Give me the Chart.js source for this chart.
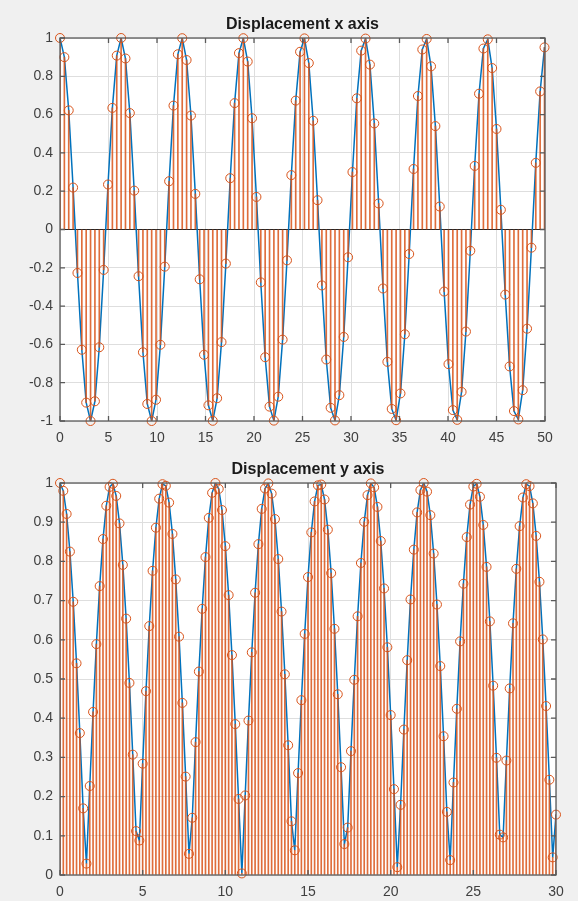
<!DOCTYPE html>
<html><head><meta charset="utf-8">
<script src="https://cdn.jsdelivr.net/npm/chart.js@4.4.1/dist/chart.umd.min.js"></script>
<style>
html,body{margin:0;padding:0;background:#f0f0f0;}
body{width:578px;height:901px;position:relative;overflow:hidden;}
.box{position:absolute;left:0;width:578px;}
canvas{display:block;}
</style></head><body>
<div class="box" style="top:0;height:450px"><canvas id="c1" width="578" height="450"></canvas></div>
<div class="box" style="top:450px;height:451px"><canvas id="c2" width="578" height="451"></canvas></div>
<script>
const titleTop = 'Displacement x axis';
const titleBottom = 'Displacement y axis';

const timeTop = [
0,0.45,0.9,1.35,1.8,2.25,2.7,3.15,3.6,4.05,
4.5,4.95,5.4,5.85,6.3,6.75,7.2,7.65,8.1,8.55,
9,9.45,9.9,10.35,10.8,11.25,11.7,12.15,12.6,13.05,
13.5,13.95,14.4,14.85,15.3,15.75,16.2,16.65,17.1,17.55,
18,18.45,18.9,19.35,19.8,20.25,20.7,21.15,21.6,22.05,
22.5,22.95,23.4,23.85,24.3,24.75,25.2,25.65,26.1,26.55,
27,27.45,27.9,28.35,28.8,29.25,29.7,30.15,30.6,31.05,
31.5,31.95,32.4,32.85,33.3,33.75,34.2,34.65,35.1,35.55,
36,36.45,36.9,37.35,37.8,38.25,38.7,39.15,39.6,40.05,
40.5,40.95,41.4,41.85,42.3,42.75,43.2,43.65,44.1,44.55,
45,45.45,45.9,46.35,46.8,47.25,47.7,48.15,48.6,49.05,
49.5,49.95];
const dispX = [
1,0.900,0.622,0.219,-0.227,-0.628,-0.904,-1.000,-0.897,-0.615,
-0.211,0.235,0.635,0.908,1.000,0.893,0.608,0.203,-0.244,-0.641,
-0.911,-1.000,-0.889,-0.602,-0.194,0.252,0.647,0.915,0.999,0.885,
0.595,0.186,-0.260,-0.654,-0.918,-0.999,-0.881,-0.588,-0.178,0.268,
0.660,0.921,0.999,0.877,0.581,0.170,-0.276,-0.667,-0.925,-0.998,
-0.873,-0.575,-0.161,0.284,0.673,0.928,0.998,0.869,0.568,0.153,
-0.292,-0.679,-0.931,-0.997,-0.865,-0.561,-0.145,0.300,0.685,0.934,
0.997,0.861,0.554,0.136,-0.308,-0.691,-0.937,-0.996,-0.856,-0.547,
-0.128,0.316,0.697,0.940,0.995,0.852,0.540,0.120,-0.324,-0.703,
-0.943,-0.994,-0.848,-0.533,-0.111,0.332,0.709,0.945,0.993,0.843,
0.525,0.103,-0.340,-0.715,-0.948,-0.992,-0.839,-0.518,-0.095,0.348,
0.721,0.951];

const timeBottom = [
0,0.2,0.4,0.6,0.8,1,1.2,1.4,1.6,1.8,
2,2.2,2.4,2.6,2.8,3,3.2,3.4,3.6,3.8,
4,4.2,4.4,4.6,4.8,5,5.2,5.4,5.6,5.8,
6,6.2,6.4,6.6,6.8,7,7.2,7.4,7.6,7.8,
8,8.2,8.4,8.6,8.8,9,9.2,9.4,9.6,9.8,
10,10.2,10.4,10.6,10.8,11,11.2,11.4,11.6,11.8,
12,12.2,12.4,12.6,12.8,13,13.2,13.4,13.6,13.8,
14,14.2,14.4,14.6,14.8,15,15.2,15.4,15.6,15.8,
16,16.2,16.4,16.6,16.8,17,17.2,17.4,17.6,17.8,
18,18.2,18.4,18.6,18.8,19,19.2,19.4,19.6,19.8,
20,20.2,20.4,20.6,20.8,21,21.2,21.4,21.6,21.8,
22,22.2,22.4,22.6,22.8,23,23.2,23.4,23.6,23.8,
24,24.2,24.4,24.6,24.8,25,25.2,25.4,25.6,25.8,
26,26.2,26.4,26.6,26.8,27,27.2,27.4,27.6,27.8,
28,28.2,28.4,28.6,28.8,29,29.2,29.4,29.6,29.8,
30];
const dispY = [
1.000,0.980,0.921,0.825,0.697,0.540,0.362,0.170,0.029,0.227,0.416,0.589,0.737,0.857,0.942,0.990,
0.998,0.967,0.897,0.791,0.654,0.490,0.307,0.112,0.088,0.284,0.469,0.635,0.776,0.886,0.960,0.997,
0.993,0.950,0.870,0.754,0.608,0.439,0.251,0.054,0.146,0.339,0.519,0.679,0.811,0.911,0.975,1.000,
0.985,0.931,0.839,0.714,0.561,0.385,0.194,0.004,0.203,0.394,0.568,0.720,0.844,0.934,0.986,
0.999,0.973,0.908,0.806,0.672,0.512,0.331,0.137,0.063,0.260,0.446,0.615,0.760,0.874,0.953,0.994,
0.996,0.958,0.881,0.770,0.628,0.461,0.275,0.079,0.121,0.316,0.498,0.660,0.796,0.901,0.969,0.999,
0.989,0.939,0.852,0.731,0.581,0.408,0.219,0.020,0.179,0.371,0.548,0.703,0.830,0.925,0.982,
1.000,0.978,0.918,0.820,0.690,0.533,0.354,0.161,0.038,0.236,0.424,0.596,0.743,0.862,0.945,0.991,
0.998,0.965,0.893,0.786,0.647,0.483,0.299,0.103,0.096,0.292,0.476,0.642,0.781,0.890,0.963,0.997,
0.992,0.948,0.865,0.748,0.601,0.431,0.243,0.045,0.154];

const xTicksTop = [0,5,10,15,20,25,30,35,40,45,50];
const yTicksTop = [-1,-0.8,-0.6,-0.4,-0.2,0,0.2,0.4,0.6,0.8,1];
const xTicksBottom = [0,5,10,15,20,25,30];
const yTicksBottom = [0,0.1,0.2,0.3,0.4,0.5,0.6,0.7,0.8,0.9,1];

const FONT = "'Liberation Sans', Arial, Helvetica, sans-serif";
const STEM = '#D95319';
const STEM_BAR = 'rgba(217,83,25,0.85)';
const LINE = '#0072BD';
const AXIS = '#5a5a5a';

function pts(xs, ys){ return xs.map((x,i)=>({x:x, y:ys[i]})); }

const framePlugin = {
  id:'frame',
  beforeDraw(chart){
    const a = chart.chartArea, c = chart.ctx;
    c.save(); c.fillStyle='#ffffff';
    c.fillRect(a.left, a.top, a.right-a.left, a.bottom-a.top);
    c.restore();
  },
  afterDraw(chart){
    const a = chart.chartArea, c = chart.ctx;
    const xs = chart.scales.x, ys = chart.scales.y;
    c.save();
    c.strokeStyle = AXIS; c.lineWidth = 1.3;
    c.beginPath();
    xs.ticks.forEach(t=>{
      const p = xs.getPixelForValue(t.value);
      c.moveTo(p, a.bottom); c.lineTo(p, a.bottom-5);
      c.moveTo(p, a.top); c.lineTo(p, a.top+5);
    });
    ys.ticks.forEach(t=>{
      const p = ys.getPixelForValue(t.value);
      c.moveTo(a.left, p); c.lineTo(a.left+5, p);
      c.moveTo(a.right, p); c.lineTo(a.right-5, p);
    });
    c.stroke();
    c.strokeRect(a.left, a.top, a.right-a.left, a.bottom-a.top);
    const title = chart.options.plugins.frame.title;
    c.fillStyle = '#1a1a1a';
    c.font = 'bold 16px ' + FONT;
    c.textAlign = 'center'; c.textBaseline = 'alphabetic';
    c.fillText(title, (a.left+a.right)/2, a.top - 9);
    c.restore();
  }
};

function makeChart(id, cfg){
  const data = pts(cfg.xs, cfg.ys);
  return new Chart(document.getElementById(id), {
    type:'bar',
    data:{ datasets:[
      { type:'line', data:data, borderColor:LINE, borderWidth:1.5, pointRadius:0, tension:0, fill:false, order:3 },
      { type:'bar', data:data, backgroundColor:STEM_BAR, borderWidth:0, barThickness:1, order:2 },
      { type:'scatter', data:data, pointStyle:'circle', pointRadius:4.5, borderColor:STEM, backgroundColor:'rgba(0,0,0,0)', pointBorderWidth:1, borderWidth:1, showLine:false, clip:false, order:1 }
    ]},
    options:{
      responsive:false, animation:false, devicePixelRatio:1, events:[],
      layout:{ padding:{ top:cfg.padTop, right:cfg.padRight, left:0, bottom:0 } },
      plugins:{ legend:{display:false}, tooltip:{enabled:false}, frame:{ title:cfg.title } },
      scales:{
        x:{ type:'linear', offset:false, min:cfg.xTicks[0], max:cfg.xTicks[cfg.xTicks.length-1],
            afterBuildTicks:s=>{ s.ticks = cfg.xTicks.map(v=>({value:v})); },
            afterFit:s=>{ s.height = cfg.xAxisH; },
            grid:{ offset:false, color:'#dedede', lineWidth:1, drawTicks:false, tickLength:0 },
            border:{ display:false },
            ticks:{ padding:9, maxRotation:0, autoSkip:false, color:'#404040', font:{ family:FONT, size:14 },
                    callback:v=>String(v) } },
        y:{ type:'linear', min:cfg.yTicks[0], max:cfg.yTicks[cfg.yTicks.length-1],
            afterBuildTicks:s=>{ s.ticks = cfg.yTicks.map(v=>({value:v})); },
            afterFit:s=>{ s.width = 60; },
            grid:{ color:ctx=> (cfg.zeroLine && ctx.tick && ctx.tick.value===0) ? '#262626' : '#dedede', lineWidth:1, drawTicks:false, tickLength:0 },
            border:{ display:false },
            ticks:{ padding:7, autoSkip:false, color:'#404040', font:{ family:FONT, size:14 },
                    callback:v=>String(parseFloat(Number(v).toFixed(2))) } }
      }
    },
    plugins:[framePlugin]
  });
}

makeChart('c1', { xs:timeTop, ys:dispX, title:titleTop, xTicks:xTicksTop, yTicks:yTicksTop,
  padTop:38, padRight:33, xAxisH:29, zeroLine:true });
makeChart('c2', { xs:timeBottom, ys:dispY, title:titleBottom, xTicks:xTicksBottom, yTicks:yTicksBottom,
  padTop:33, padRight:22, xAxisH:26, zeroLine:false });
</script>
</body></html>
